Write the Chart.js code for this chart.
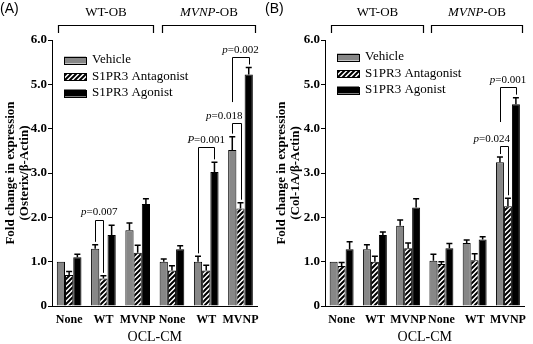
<!DOCTYPE html>
<html>
<head>
<meta charset="utf-8">
<script src="https://cdn.jsdelivr.net/npm/chart.js@4/dist/chart.umd.min.js"></script>
<style>
  html, body { margin: 0; padding: 0; background: #fff; }
  #wrap { position: relative; width: 533px; height: 344px; overflow: hidden; }
  canvas { position: absolute; top: 0; }
</style>
</head>
<body>
<div id="wrap">
  <canvas id="cA" width="266" height="344" style="left:0px"></canvas>
  <canvas id="cB" width="268" height="344" style="left:265px"></canvas>
</div>
<script>
// ---------- DATA ----------
const categories = ['None', 'WT', 'MVNP', 'None', 'WT', 'MVNP'];
const seriesNames = ['Vehicle', 'S1PR3 Antagonist', 'S1PR3 Agonist'];
const yTickLabels = ['0', '1.0', '2.0', '3.0', '4.0', '5.0', '6.0'];
const groupNames = ['WT-OB', 'MVNP-OB'];
const xTitle = 'OCL-CM';

// Panel A: Osterix
const vehicleA = [1.0, 1.29, 1.71, 1.0, 1.0, 3.52];
const antagonistA = [0.70, 0.62, 1.20, 0.80, 0.80, 2.20];
const agonistA = [1.10, 1.60, 2.30, 1.28, 3.02, 5.22];
const vehicleErrA = [0.0, 0.09, 0.16, 0.06, 0.12, 0.30];
const antagonistErrA = [0.08, 0.06, 0.17, 0.11, 0.12, 0.13];
const agonistErrA = [0.07, 0.22, 0.12, 0.08, 0.22, 0.16];
const pLabelsA = ['p=0.007', 'P=0.001', 'p=0.018', 'p=0.002'];

// Panel B: Col-1A
const vehicleB = [1.0, 1.28, 1.81, 1.02, 1.42, 3.24];
const antagonistB = [0.90, 1.00, 1.30, 0.95, 1.03, 2.25];
const agonistB = [1.28, 1.60, 2.22, 1.30, 1.50, 4.55];
const vehicleErrB = [0.0, 0.10, 0.13, 0.15, 0.07, 0.12];
const antagonistErrB = [0.08, 0.12, 0.12, 0.05, 0.15, 0.18];
const agonistErrB = [0.17, 0.07, 0.20, 0.11, 0.06, 0.15];
const pLabelsB = ['p=0.024', 'p=0.001'];

// ---------- STYLE HELPERS ----------
const SERIF = '"Liberation Serif", "Times New Roman", serif';
const GRAY = '#878787';

function hatchPattern() {
  const s = 5;
  const c = document.createElement('canvas');
  c.width = s; c.height = s;
  const g = c.getContext('2d');
  g.fillStyle = '#fff'; g.fillRect(0, 0, s, s);
  g.strokeStyle = '#000'; g.lineWidth = 2;
  g.beginPath();
  g.moveTo(-1, s + 1); g.lineTo(s + 1, -1);
  g.moveTo(-1, 1); g.lineTo(1, -1);
  g.moveTo(s - 1, s + 1); g.lineTo(s + 1, s - 1);
  g.stroke();
  return g.createPattern(c, 'repeat');
}

function drawPText(ctx, txt, x, y, align) {
  const first = txt[0], rest = txt.slice(1);
  ctx.font = 'italic 11px ' + SERIF;
  const w1 = ctx.measureText(first).width;
  ctx.font = '11px ' + SERIF;
  const w2 = ctx.measureText(rest).width;
  const tot = w1 + w2;
  let x0 = align === 'right' ? x - tot : x - tot / 2;
  ctx.textBaseline = 'middle';
  ctx.textAlign = 'left';
  ctx.font = 'italic 11px ' + SERIF;
  ctx.fillText(first, x0, y);
  ctx.font = '11px ' + SERIF;
  ctx.fillText(rest, x0 + w1, y);
}

const extrasPlugin = {
  id: 'extras',
  afterDatasetsDraw(chart, args, opts) {
    const ctx = chart.ctx;
    const ys = chart.scales.y, xs = chart.scales.x;
    const area = chart.chartArea;
    ctx.save();
    // error bars
    chart.data.datasets.forEach((ds, di) => {
      const meta = chart.getDatasetMeta(di);
      meta.data.forEach((el, i) => {
        const e = opts.errors[di][i];
        if (!e) return;
        const top = ys.getPixelForValue(ds.data[i] + e);
        ctx.strokeStyle = '#000';
        ctx.lineWidth = 1.5;
        ctx.beginPath();
        ctx.moveTo(el.x, el.y);
        ctx.lineTo(el.x, top);
        ctx.moveTo(el.x - 3, top);
        ctx.lineTo(el.x + 3, top);
        ctx.stroke();
      });
    });
    // p-value brackets
    ctx.strokeStyle = '#000';
    ctx.fillStyle = '#000';
    ctx.lineWidth = 1;
    opts.brackets.forEach(b => {
      const ma = chart.getDatasetMeta(b.a), mb = chart.getDatasetMeta(b.b);
      const xa = ma.data[b.group].x, xb = mb.data[b.group].x;
      const yb = ys.getPixelForValue(b.y);
      const da = chart.data.datasets[b.a].data[b.group] + opts.errors[b.a][b.group];
      const db = chart.data.datasets[b.b].data[b.group] + opts.errors[b.b][b.group];
      const ya = b.legA !== undefined ? ys.getPixelForValue(b.legA) : ys.getPixelForValue(da) - 3;
      const yb2 = ys.getPixelForValue(db) - 3;
      ctx.beginPath();
      ctx.moveTo(Math.round(xa) + 0.5, ya);
      ctx.lineTo(Math.round(xa) + 0.5, Math.round(yb) + 0.5);
      ctx.lineTo(Math.round(xb) + 0.5, Math.round(yb) + 0.5);
      ctx.lineTo(Math.round(xb) + 0.5, yb2);
      ctx.stroke();
      const tx = b.align === 'right' ? xb + 2 : (xa + xb) / 2;
      drawPText(ctx, b.label, tx, yb - 7, b.align);
    });
    // legend
    const lx = area.left + 12;
    chart.data.datasets.forEach((ds, di) => {
      const cy = area.top + opts.legendTop + di * 16.5;
      ctx.fillStyle = ds.backgroundColor;
      ctx.fillRect(lx, cy - 3.5, 22, 7);
      ctx.strokeStyle = '#000';
      ctx.lineWidth = 1;
      ctx.strokeRect(lx + 0.5, Math.round(cy - 3.5) + 0.5, 22, 7);
      ctx.fillStyle = '#000';
      ctx.font = '13px ' + SERIF;
      ctx.textAlign = 'left';
      ctx.textBaseline = 'middle';
      ctx.fillText(ds.label, lx + 28, cy);
    });
    // top group brackets
    const spans = [[-0.32, 2.45], [2.7, 5.42]];
    spans.forEach((sp, gi) => {
      const step = xs.getPixelForValue(1) - xs.getPixelForValue(0);
      const x1 = Math.round(xs.getPixelForValue(0) + step * sp[0]) + 0.5;
      const x2 = Math.round(xs.getPixelForValue(0) + step * sp[1]) + 0.5;
      ctx.strokeStyle = '#000';
      ctx.lineWidth = 1.2;
      ctx.beginPath();
      ctx.moveTo(x1, 33); ctx.lineTo(x1, 25.5); ctx.lineTo(x2, 25.5); ctx.lineTo(x2, 33);
      ctx.stroke();
      const cx = (x1 + x2) / 2;
      ctx.fillStyle = '#000';
      ctx.textBaseline = 'middle';
      ctx.textAlign = 'left';
      const name = groupNames[gi];
      if (name.indexOf('MVNP') === 0) {
        ctx.font = 'italic 13px ' + SERIF;
        const w1 = ctx.measureText('MVNP').width;
        ctx.font = '13px ' + SERIF;
        const w2 = ctx.measureText('-OB').width;
        const x0 = cx - (w1 + w2) / 2;
        ctx.font = 'italic 13px ' + SERIF;
        ctx.fillText('MVNP', x0, 13);
        ctx.font = '13px ' + SERIF;
        ctx.fillText('-OB', x0 + w1, 13);
      } else {
        ctx.font = '13px ' + SERIF;
        ctx.textAlign = 'center';
        ctx.fillText(name, cx, 13);
      }
    });
    // panel label
    ctx.font = '14px "Liberation Sans", Arial, sans-serif';
    ctx.textAlign = 'left';
    ctx.textBaseline = 'middle';
    ctx.fillStyle = '#000';
    ctx.fillText(opts.panel, 0, 9);
    ctx.restore();
  }
};

function makeChart(id, veh, ant, ago, errs, brackets, yTitle, yWidth, titlePad, padRight, panel, legendTop) {
  const pat = hatchPattern();
  return new Chart(document.getElementById(id), {
    type: 'bar',
    data: {
      labels: categories,
      datasets: [
        { label: seriesNames[0], data: veh, backgroundColor: GRAY, borderColor: '#000', borderWidth: 1 },
        { label: seriesNames[1], data: ant, backgroundColor: pat, borderColor: '#000', borderWidth: 1 },
        { label: seriesNames[2], data: ago, backgroundColor: '#000', borderColor: '#000', borderWidth: 1 }
      ]
    },
    options: {
      responsive: false,
      animation: false,
      devicePixelRatio: 1,
      layout: { padding: { top: 40, right: padRight, bottom: 0, left: 0 } },
      datasets: { bar: { categoryPercentage: 0.72, barPercentage: 1.0 } },
      plugins: {
        legend: { display: false },
        tooltip: { enabled: false },
        extras: { errors: errs, brackets: brackets, panel: panel, legendTop: legendTop }
      },
      scales: {
        x: {
          grid: { display: false, drawTicks: false },
          border: { display: true, color: '#000', width: 1 },
          ticks: { color: '#000', font: { family: SERIF, size: 12, weight: 'bold' }, padding: 7, maxRotation: 0, autoSkip: false },
          title: { display: true, text: xTitle, color: '#000', font: { family: SERIF, size: 14, lineHeight: 1 }, padding: { top: 0, bottom: 0 } },
          afterFit: s => { s.height = 38; }
        },
        y: {
          min: 0, max: 6,
          grid: { display: true, drawOnChartArea: false, drawTicks: true, tickLength: 4, color: '#000' },
          border: { display: true, color: '#000', width: 1 },
          ticks: { stepSize: 1, color: '#000', padding: 1, font: { family: SERIF, size: 13, weight: 'bold' },
                   callback: (v, i) => yTickLabels[i] },
          title: { display: true, text: yTitle, color: '#000', font: { family: SERIF, size: 13, weight: 'bold', lineHeight: 1.12 }, padding: { top: titlePad, bottom: 0 } },
          afterFit: s => { s.width = yWidth; }
        }
      }
    },
    plugins: [extrasPlugin]
  });
}

makeChart('cA', vehicleA, antagonistA, agonistA, [vehicleErrA, antagonistErrA, agonistErrA],
  [
    { group: 1, a: 0, b: 1, y: 1.95, label: pLabelsA[0] },
    { group: 4, a: 0, b: 2, y: 3.58, label: pLabelsA[1] },
    { group: 5, a: 0, b: 1, y: 4.13, label: pLabelsA[2], align: 'right' },
    { group: 5, a: 0, b: 2, y: 5.62, label: pLabelsA[3], legA: 4.6 }
  ],
  ['Fold change in expression', '(Osterix/β-Actin)'], 52, 3, 6, '(A)', 20);

makeChart('cB', vehicleB, antagonistB, agonistB, [vehicleErrB, antagonistErrB, agonistErrB],
  [
    { group: 5, a: 0, b: 1, y: 3.6, label: pLabelsB[0], align: 'right' },
    { group: 5, a: 0, b: 2, y: 4.93, label: pLabelsB[1], legA: 4.15 }
  ],
  ['Fold change in expression', '(Col-1A/β-Actin)'], 60, 9, 1, '(B)', 17);
</script>
</body>
</html>
